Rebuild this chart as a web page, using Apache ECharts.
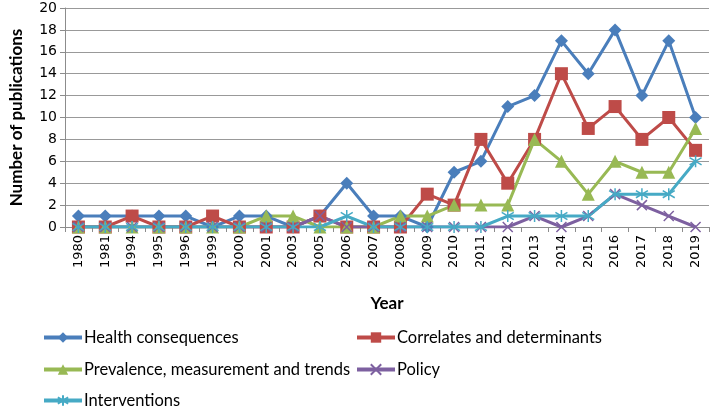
<!DOCTYPE html>
<html><head><meta charset="utf-8">
<script src="https://cdn.jsdelivr.net/npm/echarts@6/dist/echarts.min.js"></script>
<style>html,body{margin:0;padding:0;background:#fff}#c{width:711px;height:411px}</style>
</head><body><div id="c"></div>
<script>
const years = ['1980','1981','1994','1995','1996','1999','2000','2001','2003','2005','2006','2007','2008','2009','2010','2011','2012','2013','2014','2015','2016','2017','2018','2019'];
const health      = [1,1,1,1,1,0,1,1,0,1,4,1,1,0,5,6,11,12,17,14,18,12,17,10];
const correlates  = [0,0,1,0,0,1,0,0,0,1,0,0,0,3,2,8,4,8,14,9,11,8,10,7];
const prevalence  = [0,0,0,0,0,0,0,1,1,0,0,0,1,1,2,2,2,8,6,3,6,5,5,9];
const policy      = [0,0,0,0,0,0,0,0,0,1,0,0,0,0,0,0,0,1,0,1,3,2,1,0];
const interventions=[0,0,0,0,0,0,0,0,0,0,1,0,0,0,0,0,1,1,1,1,3,3,3,6];
const yTicks = [0,20,2];

const names = ['Health consequences','Correlates and determinants','Prevalence, measurement and trends','Policy','Interventions'];
const colors = ['#4a7ebb','#be4b48','#98b954','#7d60a0','#46aac5'];
const symbols = ['diamond','rect','triangle','path://M0,0L10,10M10,0L0,10','path://M5,0L5,10M0,2L10,8M0,8L10,2'];
const sizes = [13,13,13,10,12];
const datas = [health,correlates,prevalence,policy,interventions];

const series = names.map((n,i)=>({
  name:n, type:'line', data:datas[i], symbol:symbols[i], symbolSize:sizes[i],
  showAllSymbol:true,
  lineStyle:{color:colors[i],width:3},
  itemStyle:{color:colors[i],borderColor:colors[i],borderWidth:i>=3?1.5:0},
  emphasis:{disabled:true}
}));

const legendPos = [[42,329],[355,329],[42,361],[355,361],[42,392]];
const legends = names.map((n,i)=>({
  data:[n], left:legendPos[i][0], top:legendPos[i][1], itemWidth:38, itemHeight:13, itemGap:2, padding:0,
  lineStyle:{width:4},
  textStyle:{fontFamily:'Lato, sans-serif',fontSize:16.5,color:'#000',padding:[0,0,0,-3]}
}));

const chart = echarts.init(document.getElementById('c'),null,{renderer:'canvas'});
chart.setOption({
  animation:false,
  color:colors,
  legend:legends,
  grid:{left:58,right:2,top:8,bottom:184,containLabel:false},
  xAxis:{type:'category',data:years,boundaryGap:true,
    name:'Year',nameLocation:'middle',nameGap:68,
    nameTextStyle:{fontFamily:'Lato, sans-serif',fontWeight:'bold',fontSize:17,color:'#000'},
    axisLine:{lineStyle:{color:'#8c8c8c'}},
    axisTick:{show:true,alignWithLabel:false,length:5,lineStyle:{color:'#8c8c8c'}},
    axisLabel:{rotate:90,interval:0,fontFamily:'DejaVu Sans',fontSize:13,color:'#000',margin:8}
  },
  yAxis:{type:'value',min:yTicks[0],max:yTicks[1],interval:yTicks[2],
    name:'Number of publications',nameLocation:'middle',nameGap:40,nameRotate:90,
    nameTextStyle:{fontFamily:'Lato, sans-serif',fontWeight:'bold',fontSize:17,color:'#000'},
    axisLine:{show:true,lineStyle:{color:'#8c8c8c'}},
    axisTick:{show:true,length:5,lineStyle:{color:'#8c8c8c'}},
    splitLine:{lineStyle:{color:'#999999'}},
    axisLabel:{fontFamily:'DejaVu Sans',fontSize:14,color:'#000',margin:8}
  },
  series:series
});
</script></body></html>
